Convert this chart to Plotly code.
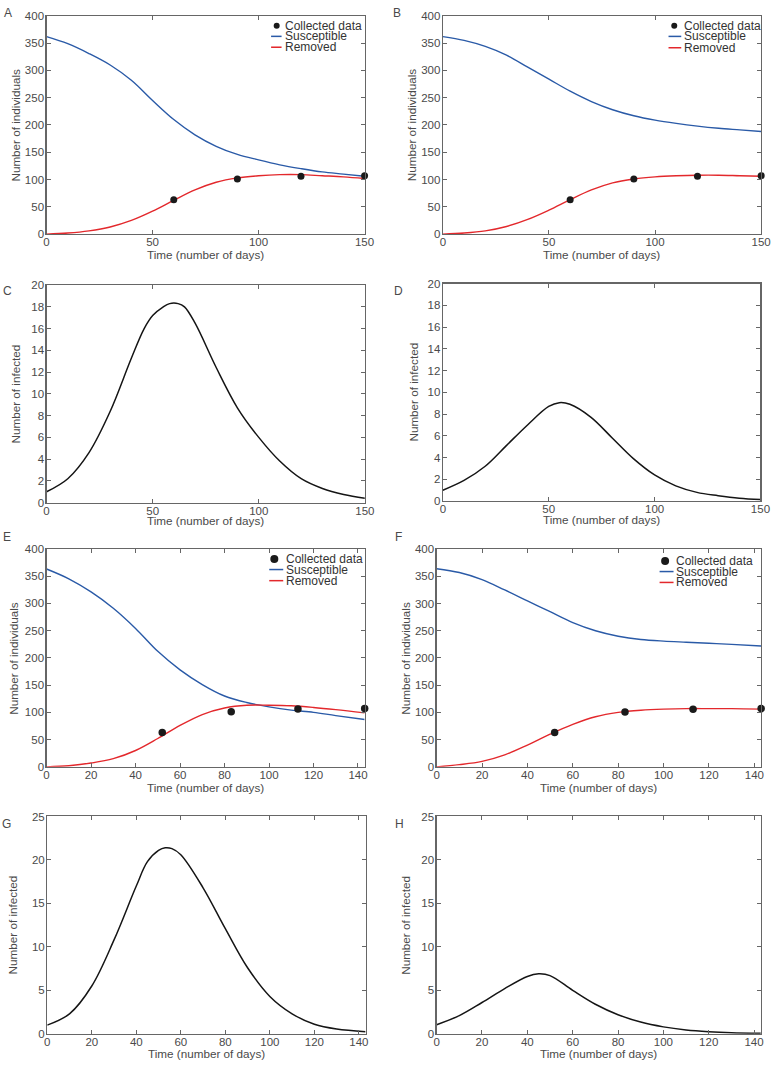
import plotly.graph_objects as go

# ---------------- data ----------------
t_ab = [0, 10, 20, 30, 40, 50, 60, 70, 80, 90, 100, 110, 120, 130, 140, 150]
a_susceptible = [362, 349, 331, 310, 282, 245, 210, 182, 161, 146, 136, 127, 120, 114, 110, 106]
a_removed = [0, 2, 6, 13, 25, 42, 62, 81, 95, 103, 107, 109, 109, 107, 105, 102]
b_susceptible = [362, 355, 344, 328, 306, 284, 262, 243, 228, 217, 209, 203, 198, 194, 191, 188]
b_removed = [0, 2, 6, 14, 27, 44, 63, 81, 94, 101, 105, 107, 108, 108, 107, 106]
t_data_ab = [60, 90, 120, 150]
collected = [63, 101, 106, 107]

t_c = [0, 10, 20, 30, 40, 46, 50, 55, 58, 62, 65, 70, 80, 90, 100, 110, 120, 130, 140, 150]
c_infected = [1.0, 2.2, 4.6, 8.4, 13.3, 16.0, 17.2, 18.0, 18.3, 18.3, 18.0, 16.5, 12.4, 8.7, 6.0, 3.8, 2.2, 1.3, 0.75, 0.4]
t_d = [0, 10, 20, 30, 40, 50, 55, 60, 70, 80, 90, 100, 110, 120, 130, 140, 150]
d_infected = [1.0, 1.9, 3.2, 5.1, 7.0, 8.7, 9.05, 8.9, 7.7, 5.8, 3.9, 2.4, 1.4, 0.8, 0.5, 0.27, 0.15]

t_ef = [0, 10, 20, 30, 40, 50, 60, 70, 80, 90, 100, 110, 120, 130, 143]
e_susceptible = [363, 345, 321, 291, 254, 212, 178, 151, 130, 118, 110, 104, 100, 94, 87]
e_removed = [0, 2, 7, 15, 30, 52, 76, 96, 108, 113, 113, 112, 109, 105, 99]
f_susceptible = [364, 357, 344, 325, 305, 285, 265, 250, 240, 234, 231, 229, 227, 225, 222]
f_removed = [0, 4, 10, 22, 40, 60, 78, 92, 100, 104, 106, 107, 107, 107, 106]
t_data_ef = [52, 83, 113, 143]

t_g = [0, 10, 20, 30, 40, 45, 50, 53, 56, 60, 70, 80, 90, 100, 110, 120, 130, 143]
g_infected = [1.0, 2.3, 5.5, 10.8, 17.0, 19.8, 21.1, 21.4, 21.3, 20.6, 16.8, 12.1, 7.6, 4.3, 2.3, 1.1, 0.55, 0.25]
t_h = [0, 10, 20, 30, 40, 45, 50, 60, 70, 80, 90, 100, 110, 120, 130, 143]
h_infected = [1.05, 2.1, 3.6, 5.2, 6.6, 6.9, 6.7, 5.0, 3.4, 2.2, 1.35, 0.8, 0.45, 0.25, 0.13, 0.06]

ticks_150 = [0, 50, 100, 150]
ticks_140 = [0, 20, 40, 60, 80, 100, 120, 140]

# ---------------- style ----------------
W, H = 780, 1068
FONT = "Liberation Sans, Arial, Helvetica, sans-serif"
TXT = "#4a4a4a"
FRAME = "#666666"
BLUE = "#2a5aa7"
RED = "#e3282c"
BLACK = "#151515"

# panel pixel boxes: (x0, x1, y0, y1) in page pixels
boxes = {
    "A": (44.3, 367.7, 10.0, 230.7),
    "B": (447.3, 771.0, 10.0, 230.7),
    "C": (44.3, 368.0, 282.3, 502.3),
    "D": (447.3, 770.3, 280.7, 500.7),
    "E": (44.3, 367.8, 549.0, 769.5),
    "F": (441.0, 771.0, 549.3, 769.5),
    "G": (45.0, 368.7, 819.7, 1039.5),
    "H": (441.0, 770.7, 819.7, 1039.5),
}
letter_pos = {
    "A": (5, 7.3), "B": (400.7, 7.3), "C": (5, 288.3), "D": (401.7, 288.3),
    "E": (4, 537.3), "F": (402.7, 537.3), "G": (4, 827.3), "H": (403.3, 827.3),
}
ytitle_shift = {"A": -31, "B": -30.6, "C": -31, "D": -29.6, "E": -32.6, "F": -31, "G": -35, "H": -31}
xtitle_shift = {"A": -20, "B": -20, "C": -18, "D": -18, "E": -20.5, "F": -20.5, "G": -20, "H": -20}

order = ["A", "B", "C", "D", "E", "F", "G", "H"]
fig = go.Figure()
layout = dict(
    width=W, height=H,
    margin=dict(l=0, r=0, t=0, b=0),
    paper_bgcolor="white", plot_bgcolor="white",
    showlegend=False,
    font=dict(family=FONT, size=11.5, color=TXT),
)
annotations = []
shapes = []

for i, p in enumerate(order):
    n = i + 1
    sfx = "" if n == 1 else str(n)
    x0, x1, y0, y1 = boxes[p]
    if p in "ABCD":
        xr, xt = [0, 150], ticks_150
    else:
        xr, xt = [0, 143], ticks_140
    if p in "ABEF":
        yr, ydt = [0, 400], 50
        ytitle = "Number of individuals"
    elif p in "CD":
        yr, ydt = [0, 20], 2
        ytitle = "Number of infected"
    else:
        yr, ydt = [0, 25], 5
        ytitle = "Number of infected"
    common = dict(
        showgrid=False, zeroline=False, showline=True, linecolor=FRAME, linewidth=1.2,
        mirror="ticks", ticks="inside", ticklen=4, tickwidth=1, tickcolor=FRAME,
        tickfont=dict(family=FONT, size=11.5, color=TXT),
    )
    layout["xaxis" + sfx] = dict(
        domain=[x0 / W, x1 / W], range=xr, tickvals=xt, anchor="y" + sfx,
        ticklabelstandoff=-3, **common
    )
    layout["yaxis" + sfx] = dict(
        domain=[1 - y1 / H, 1 - y0 / H], range=yr, dtick=ydt, tick0=0, anchor="x" + sfx,
        ticklabelstandoff=-1, **common
    )
    xref, yref = "x" + sfx, "y" + sfx
    # axis titles
    annotations.append(dict(text="Time (number of days)", xref=xref + " domain", yref=yref + " domain",
                            x=0.5, y=0, yshift=xtitle_shift[p], showarrow=False,
                            xanchor="center", yanchor="middle", font=dict(size=11.7, color=TXT)))
    annotations.append(dict(text=ytitle, xref=xref + " domain", yref=yref + " domain",
                            x=0, y=0.5, xshift=ytitle_shift[p], textangle=-90, showarrow=False,
                            xanchor="center", yanchor="middle", font=dict(size=11.7, color=TXT)))
    # panel letter
    lx, ly = letter_pos[p]
    annotations.append(dict(text=p, xref="paper", yref="paper", x=lx / W, y=1 - ly / H,
                            showarrow=False, xanchor="center", yanchor="middle",
                            font=dict(size=12, color=TXT)))

# ---------------- traces ----------------
LW = 1.4


def sir_panel(n, t, s, r, td, dd, dot):
    sfx = "" if n == 1 else str(n)
    fig.add_trace(go.Scatter(x=t, y=s, mode="lines", name="Susceptible", xaxis="x" + sfx, yaxis="y" + sfx,
                             line=dict(color=BLUE, width=LW, shape="spline", smoothing=1.0)))
    fig.add_trace(go.Scatter(x=t, y=r, mode="lines", name="Removed", xaxis="x" + sfx, yaxis="y" + sfx,
                             line=dict(color=RED, width=LW, shape="spline", smoothing=1.0)))
    fig.add_trace(go.Scatter(x=td, y=dd, mode="markers", name="Collected data", xaxis="x" + sfx, yaxis="y" + sfx,
                             marker=dict(color="#1a1a1a", size=dot), cliponaxis=False))


def inf_panel(n, t, v):
    sfx = "" if n == 1 else str(n)
    fig.add_trace(go.Scatter(x=t, y=v, mode="lines", name="Infected", xaxis="x" + sfx, yaxis="y" + sfx,
                             line=dict(color=BLACK, width=1.5, shape="spline", smoothing=1.0)))


sir_panel(1, t_ab, a_susceptible, a_removed, t_data_ab, collected, 7)
sir_panel(2, t_ab, b_susceptible, b_removed, t_data_ab, collected, 7)
inf_panel(3, t_c, c_infected)
inf_panel(4, t_d, d_infected)
sir_panel(5, t_ef, e_susceptible, e_removed, t_data_ef, collected, 7.5)
sir_panel(6, t_ef, f_susceptible, f_removed, t_data_ef, collected, 7.5)
inf_panel(7, t_g, g_infected)
inf_panel(8, t_h, h_infected)

# ---------------- in-plot legends ----------------
# (text_x, marker_x, line_x0, line_x1, rows y) in domain fractions, marker px size
legends = {
    1: (0.7443, 0.7236, 0.706, 0.739, (0.9547, 0.9062, 0.8564), 6),
    2: (0.752, 0.727, 0.709, 0.749, (0.955, 0.906, 0.854), 6),
    5: (0.745, 0.716, 0.700, 0.744, (0.953, 0.905, 0.854), 8),
    6: (0.731, 0.704, 0.687, 0.730, (0.946, 0.897, 0.847), 8),
}
for n, (tx, mx, lx0, lx1, rows, ms) in legends.items():
    sfx = "" if n == 1 else str(n)
    xr, yr = "x" + sfx + " domain", "y" + sfx + " domain"
    labels = ["Collected data", "Susceptible", "Removed"]
    for lab, yy in zip(labels, rows):
        annotations.append(dict(text=lab, xref=xr, yref=yr, x=tx, y=yy, showarrow=False,
                                xanchor="left", yanchor="middle", font=dict(size=12, color="#333333")))
    shapes.append(dict(type="circle", xref=xr, yref=yr, xsizemode="pixel", ysizemode="pixel",
                       xanchor=mx, yanchor=rows[0], x0=-ms / 2, x1=ms / 2, y0=-ms / 2, y1=ms / 2,
                       fillcolor="#1a1a1a", line=dict(width=0)))
    shapes.append(dict(type="line", xref=xr, yref=yr, x0=lx0, x1=lx1, y0=rows[1], y1=rows[1],
                       line=dict(color=BLUE, width=1.5)))
    shapes.append(dict(type="line", xref=xr, yref=yr, x0=lx0, x1=lx1, y0=rows[2], y1=rows[2],
                       line=dict(color=RED, width=1.5)))

layout["annotations"] = annotations
layout["shapes"] = shapes
fig.update_layout(**layout)
fig.write_html(
    "out.html",
    config={"displayModeBar": False, "staticPlot": True},
    post_script=(
        "document.body.style.margin='0px';document.body.style.padding='0px';"
        "document.body.style.overflow='hidden';document.documentElement.style.overflow='hidden';"
    ),
)
